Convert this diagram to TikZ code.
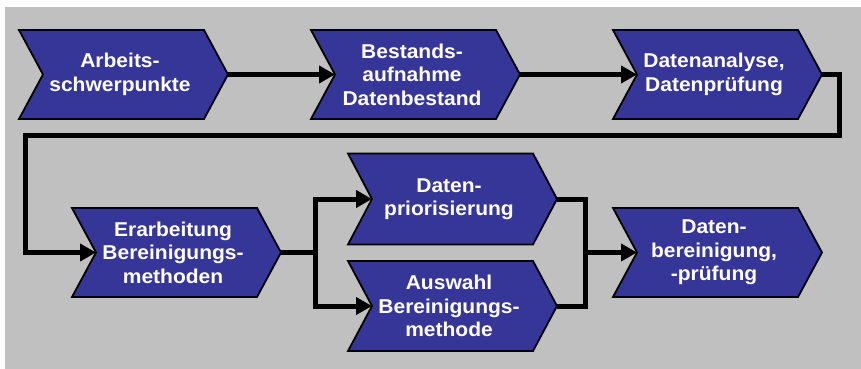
\documentclass[tikz,border=0pt]{standalone}
\usepackage{fontspec}
\newfontfamily\lab[FakeStretch=1.05]{Liberation Sans}
\usetikzlibrary{arrows.meta}
\definecolor{chevblue}{HTML}{363699}
\definecolor{bggray}{HTML}{C0C0C0}
\tikzset{
  chevshape/.style={fill=chevblue, draw=black, line width=1.8pt, line join=miter},
  chevtext/.style={text=white, font=\lab\bfseries\fontsize{20}{23.5}\selectfont, align=center, inner sep=0pt},
  conn/.style={draw=black, line width=5pt, line join=miter},
  arr/.style={conn, -{Triangle[length=16pt,width=17pt]}},
}
% name, left x, center y, half height, text
\newcommand{\chev}[5]{%
  \draw[chevshape] (#2,#3-#4) -- (#2+185,#3-#4) -- (#2+209,#3) -- (#2+185,#3+#4) -- (#2,#3+#4) -- (#2+24,#3) -- cycle;
  \node[chevtext] (#1) at (#2+101,#3) {#5};
  \coordinate (#1-in) at (#2+24,#3);
  \coordinate (#1-out) at (#2+209,#3);
}
\begin{document}
\begin{tikzpicture}[x=1pt,y=-1pt]
\useasboundingbox (0,0) rectangle (861,369);
\fill[bggray] (5,7) rectangle (861,369);
\chev{n1}{19}{74.5}{44.5}{Arbeits-\\schwerpunkte}
\chev{n2}{311}{74.5}{44.5}{Bestands-\\aufnahme\\Datenbestand}
\chev{n3}{613}{74.5}{44.5}{Datenanalyse,\\Datenprüfung}
\chev{n4}{72}{252.5}{44.5}{Erarbeitung\\Bereinigungs-\\methoden}
\chev{n5}{348}{199}{45.5}{Daten-\\priorisierung}
\chev{n6}{348}{306}{45}{Auswahl\\Bereinigungs-\\methode}
\chev{n7}{613}{252.5}{44.5}{Daten-\\bereinigung,\\-prüfung}
\coordinate (r1) at (839,135);
\coordinate (l1) at (25,135);
\coordinate (s1) at (315,252.5);
\coordinate (m1) at (585,252.5);
\draw[arr] (n1-out) -- (n2-in);
\draw[arr] (n2-out) -- (n3-in);
\draw[arr] (n3-out) -| (r1) -- (l1) |- (n4-in);
\draw[conn] (n4-out) -- (s1);
\draw[conn, {Triangle[length=16pt,width=17pt]}-{Triangle[length=16pt,width=17pt]}] (n5-in) -| (s1) |- (n6-in);
\draw[conn] (n5-out) -| (m1) |- (n6-out);
\draw[arr] (m1) -- (n7-in);
\end{tikzpicture}
\end{document}
